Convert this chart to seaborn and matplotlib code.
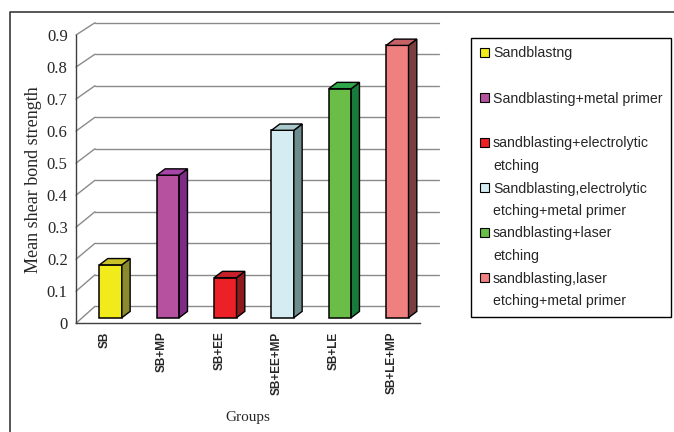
import numpy as np
import pandas as pd
import matplotlib
matplotlib.use("Agg")
import matplotlib.pyplot as plt
import matplotlib.transforms as mtransforms
from matplotlib.patches import Polygon, Patch, ConnectionPatch
from matplotlib.lines import Line2D
import seaborn as sns

# ---- data -------------------------------------------------------------
groups = ["SB", "SB+MP", "SB+EE", "SB+EE+MP", "SB+LE", "SB+LE+MP"]
strength = [0.165, 0.445, 0.125, 0.585, 0.715, 0.85]
legend_labels = [
    "Sandblastng",
    "Sandblasting+metal primer",
    "sandblasting+electrolytic\netching",
    "Sandblasting,electrolytic\netching+metal primer",
    "sandblasting+laser\netching",
    "sandblasting,laser\netching+metal primer",
]
y_ticks = [0, 0.1, 0.2, 0.3, 0.4, 0.5, 0.6, 0.7, 0.8, 0.9]
y_tick_labels = ["0", "0.1", "0.2", "0.3", "0.4", "0.5", "0.6", "0.7", "0.8", "0.9"]

# ---- colours (front, side, top faces of each column) ------------------
front_colors = ["#F2EB1C", "#B5519F", "#EC2027", "#D5ECF2", "#6ABD46", "#F07F80"]
side_colors = ["#8C8A2E", "#7D2B84", "#8E1B1E", "#6E8C8E", "#187A3B", "#7A3E3E"]
top_colors = ["#C9C12A", "#A845A8", "#C8202A", "#A9C9CD", "#2EA84A", "#C66266"]

sns.set_style("white")
SERIF = "Liberation Serif"
SANS = "Liberation Sans"

W, H = 674, 432
fig = plt.figure(figsize=(W / 100, H / 100), dpi=100)
fig.patch.set_facecolor("white")


def px_box(x0, y_top, x1, y_bottom):
    return [x0 / W, 1 - y_bottom / H, (x1 - x0) / W, (y_bottom - y_top) / H]


# ---- back wall with the horizontal gridlines ---------------------------
bx = fig.add_axes(px_box(95, 22.7, 439, 306.3), zorder=0)
bx.set_facecolor("none")
bx.set_xlim(0, 1)
bx.set_ylim(0, 0.9)
bx.set_yticks(y_ticks)
bx.set_xticks([])
bx.tick_params(length=0, labelleft=False, labelbottom=False)
bx.grid(axis="y", color="#8a8a8a", lw=1)
for gl in bx.get_ygridlines():
    gl.set_clip_on(False)
for sp in bx.spines.values():
    sp.set_visible(False)

# ---- front frame: axis lines, ticks and the columns --------------------
ax = fig.add_axes(px_box(76, 35, 420, 323.3), zorder=2)
ax.set_facecolor("none")

df = pd.DataFrame({"group": groups, "strength": strength})
sns.barplot(data=df, x="group", y="strength", hue="group", palette=front_colors,
            saturation=1, width=0.39, edgecolor="black", linewidth=1.1,
            legend=False, ax=ax)
ax.set_xlim(-0.5, 5.5)
ax.set_ylim(0, 0.9)

# pixel scale of the frame, used to give the columns their depth
px_x = 344 / 6
px_y = 288.3 / 0.9
shift = mtransforms.ScaledTranslation(6 / 100, 5.6 / 100, fig.dpi_scale_trans)
col_trans = ax.transData + shift
ddx = 8.3 / px_x
ddy = 6.3 / px_y

for cont, side_c, top_c in zip(ax.containers, side_colors, top_colors):
    for bar in cont:
        bar.set_transform(col_trans)
        bar.set_clip_on(False)
        x, w, h = bar.get_x(), bar.get_width(), bar.get_height()
        side = Polygon([(x + w, 0), (x + w, h), (x + w + ddx, h + ddy), (x + w + ddx, ddy)],
                       closed=True, facecolor=side_c, edgecolor="black", lw=1.0,
                       transform=col_trans, clip_on=False, zorder=bar.get_zorder())
        top = Polygon([(x, h), (x + w, h), (x + w + ddx, h + ddy), (x + ddx, h + ddy)],
                      closed=True, facecolor=top_c, edgecolor="black", lw=1.0,
                      transform=col_trans, clip_on=False, zorder=bar.get_zorder())
        ax.add_patch(side)
        ax.add_patch(top)

# left side wall: diagonals from the front axis to the back wall
for v in y_ticks:
    con = ConnectionPatch(xyA=(-0.5, v), coordsA=ax.transData,
                          xyB=(0, v), coordsB=bx.transData,
                          color="#8a8a8a", lw=1)
    fig.add_artist(con)

# axes styling
for name in ("top", "right"):
    ax.spines[name].set_visible(False)
for name in ("left", "bottom"):
    ax.spines[name].set_color("#404040")
    ax.spines[name].set_linewidth(1)

ax.set_yticks(y_ticks, labels=y_tick_labels)
ax.tick_params(axis="y", length=4, width=1, color="#404040", pad=2, labelsize=12)
for lab in ax.get_yticklabels():
    lab.set_fontfamily(SERIF)

ax.set_xticks(np.arange(-0.5, 6, 1), minor=True)
ax.tick_params(axis="x", which="minor", length=5, width=1, color="#404040", direction="out")
ax.tick_params(axis="x", which="major", length=0, pad=6.0, labelrotation=90)
for lab in ax.get_xticklabels():
    lab.set_fontfamily(SANS)
    lab.set_fontsize(8.5)
    lab.set_fontweight("bold")

ax.set_ylabel("Mean shear bond strength", fontfamily=SERIF, fontsize=13)
ax.yaxis.set_label_coords(-0.10, 0.497)
ax.set_xlabel("Groups", fontfamily=SERIF, fontsize=11)
ax.xaxis.set_label_coords(0.5, -0.304)

# ---- legend (one row per text line, boxes on the first line) ----------
handles, labels = [], []
for lab, c in zip(legend_labels, front_colors):
    lines = lab.split("\n")
    if len(lines) == 1:
        lines.append("")
    handles.append(Patch(facecolor=c, edgecolor="black", lw=0.8))
    labels.append(lines[0])
    for extra in lines[1:]:
        handles.append(Patch(facecolor="none", edgecolor="none"))
        labels.append(extra)

leg = fig.legend(handles, labels, loc="upper left",
                 bbox_to_anchor=(471 / W, 1 - 38 / H), bbox_transform=fig.transFigure,
                 borderaxespad=0, fancybox=False, framealpha=1, edgecolor="black",
                 prop={"family": SANS, "size": 10.2},
                 handlelength=0.65, handleheight=0.65, handletextpad=0.3,
                 labelspacing=0.6, borderpad=0.6)
leg.get_frame().set_linewidth(1.0)

# ---- outer chart border ------------------------------------------------
fig.add_artist(Line2D([10 / W, 10 / W, 1.0], [0, 1 - 12 / H, 1 - 12 / H],
                      transform=fig.transFigure, color="#3a3a3a", lw=1.2))

fig.savefig("out.png", dpi=100)
